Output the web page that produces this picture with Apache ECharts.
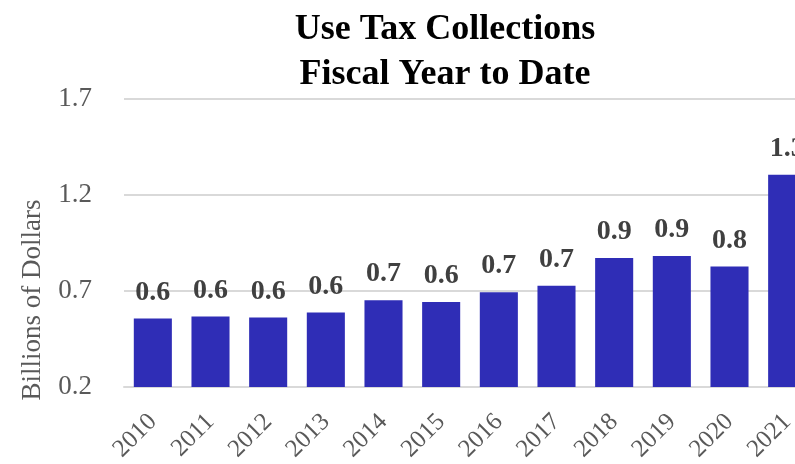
<!DOCTYPE html>
<html>
<head>
<meta charset="utf-8">
<script src="https://cdn.jsdelivr.net/npm/echarts@6/dist/echarts.min.js"></script>
<style>
  html, body { margin: 0; padding: 0; background: #ffffff; }
  #chart { width: 795px; height: 464px; }
</style>
</head>
<body>
<div id="chart"></div>
<script>
// Fiscal years shown on the category axis
var years = ['2010', '2011', '2012', '2013', '2014', '2015', '2016', '2017', '2018', '2019', '2020', '2021'];
// Use tax collections, fiscal year to date, billions of dollars
var collections = [0.557, 0.567, 0.562, 0.588, 0.652, 0.643, 0.694, 0.727, 0.872, 0.882, 0.827, 1.305];
// Value axis range and step
var axisMin = 0.2;
var axisMax = 1.7;
var axisStep = 0.5;

var serif = '"Liberation Serif", "Times New Roman", serif';
var chart = echarts.init(document.getElementById('chart'), null, { renderer: 'canvas' });

chart.setOption({
  animation: false,
  backgroundColor: '#ffffff',
  title: {
    text: 'Use Tax Collections\nFiscal Year to Date',
    left: 440,
    top: 2,
    textAlign: 'center',
    textStyle: {
      fontFamily: serif,
      fontWeight: 'bold',
      fontSize: 36,
      lineHeight: 45,
      color: '#000000'
    }
  },
  graphic: [{
    type: 'text',
    x: 33,
    y: 300,
    rotation: Math.PI / 2,
    style: {
      text: 'Billions of Dollars',
      fontFamily: serif,
      fontSize: 27,
      fill: '#595959',
      align: 'center',
      verticalAlign: 'middle'
    }
  }],
  grid: {
    left: 124,
    top: 99,
    width: 692,
    bottom: 77,
    containLabel: false,
    outerBoundsMode: 'none'
  },
  xAxis: {
    type: 'category',
    data: years,
    axisLine: { show: true, lineStyle: { color: '#d9d9d9', width: 2 } },
    axisTick: { show: false },
    axisLabel: {
      rotate: 45,
      margin: 31,
      fontFamily: serif,
      fontSize: 25,
      color: '#595959'
    }
  },
  yAxis: {
    type: 'value',
    min: axisMin,
    max: axisMax,
    interval: axisStep,
    axisLine: { show: false },
    axisTick: { show: false },
    splitLine: { lineStyle: { color: '#d9d9d9', width: 2 } },
    axisLabel: {
      margin: 32,
      fontFamily: serif,
      fontSize: 27,
      color: '#595959',
      formatter: function (v) { return v.toFixed(1); }
    }
  },
  series: [{
    type: 'bar',
    data: collections,
    barWidth: '66%',
    itemStyle: { color: '#2f2db6' },
    label: {
      show: true,
      position: 'top',
      distance: 12,
      fontFamily: serif,
      fontWeight: 'bold',
      fontSize: 28,
      color: '#404040',
      formatter: function (p) { return p.value.toFixed(1); }
    }
  }]
});
</script>
</body>
</html>
